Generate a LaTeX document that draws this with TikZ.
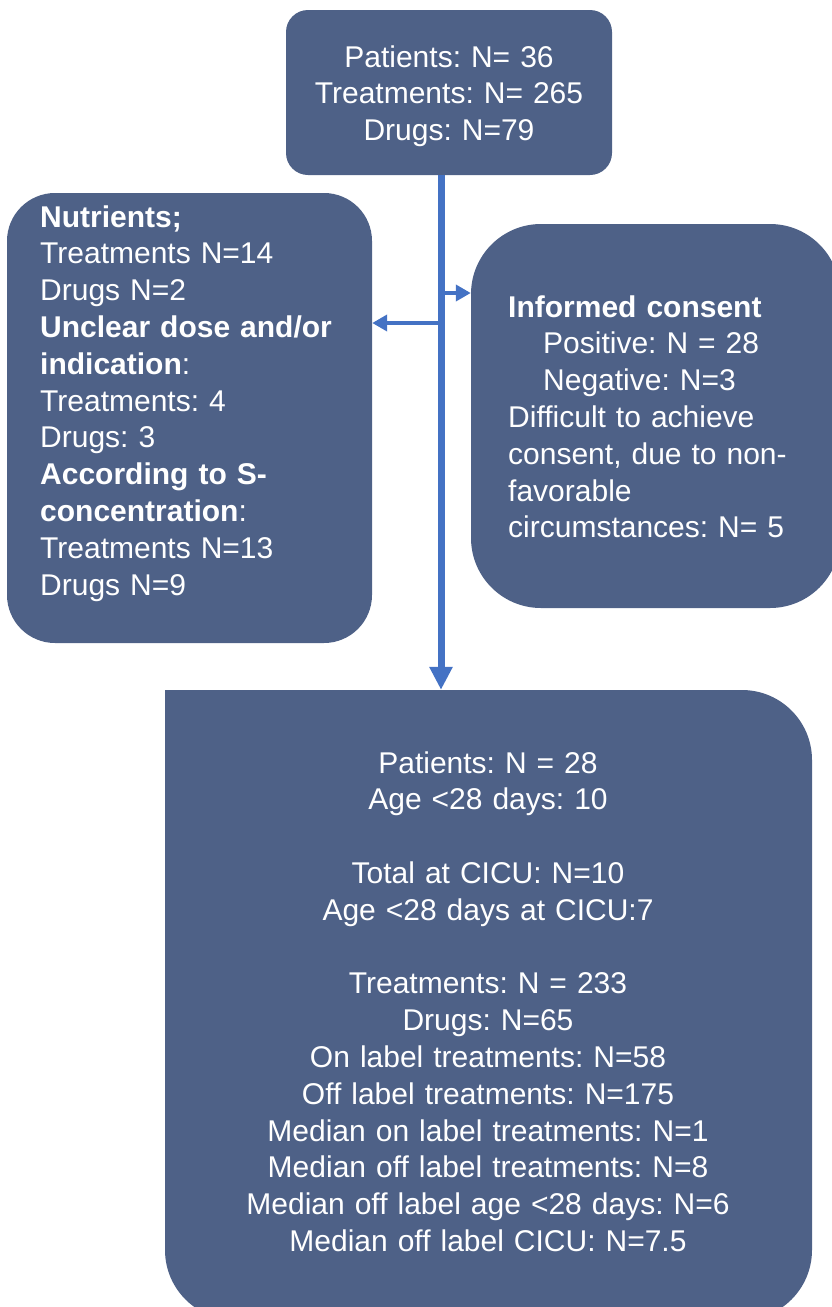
\documentclass[tikz,border=0pt]{standalone}
\usepackage{fontspec}
\setmainfont{Liberation Sans}
\usepackage{xcolor}
\usepackage{tikz}
\usetikzlibrary{calc}
\usetikzlibrary{arrows.meta}
\usetikzlibrary{positioning}
\frenchspacing
\definecolor{boxblue}{RGB}{78,97,135}
\definecolor{flowblue}{RGB}{68,114,196}
\tikzstyle{box} = [draw=none, fill=boxblue, inner sep=0]
\tikzstyle{txt} = [draw=none, text=white, inner sep=0, font=\fontsize{30}{36.8}\selectfont]
\tikzstyle{flow} = [draw=flowblue]

\begin{document}
\frenchspacing
\begin{tikzpicture}[x=1pt, y=-1pt]
\useasboundingbox (0,0) rectangle (831,1307);
% boxes
\node [box, rounded corners=22pt, minimum width=326pt, minimum height=165pt] (S) at (449, 92.5) {};
\node [box, rounded corners=48pt, minimum width=365pt, minimum height=450pt] (E) at (189.5, 418) {};
\node [box, rounded corners=70pt, minimum width=369pt, minimum height=384pt] (C) at (655.5, 416) {};
\node [box, rounded corners=70pt, minimum width=647pt, minimum height=630pt] (F) at (488.5, 1005) {};
\fill [boxblue] (F.north west) rectangle ++(80, 80);
% texts
\node [txt, text width=320pt, align=center, anchor=base] (St) at (449, 67) {Patients: N= 36\\Treatments: N= 265\\Drugs: N=79};
\node [txt, text width=340pt, align=left, anchor=base west] (Et) at (40, 227) {\textbf{Nutrients;}\\Treatments N=14\\Drugs N=2\\\textbf{Unclear dose and/or}\\\textbf{indication}:\\Treatments: 4\\Drugs: 3\\\textbf{According to S-}\\\textbf{concentration}:\\Treatments N=13\\Drugs N=9};
\node [txt, text width=330pt, align=left, anchor=base west] (Ct) at (508, 317) {\textbf{Informed consent}\\\hspace*{35pt}Positive: N = 28\\\hspace*{35pt}Negative: N=3\\Difficult to achieve\\consent, due to non-\\favorable\\circumstances: N= 5};
\node [txt, text width=620pt, align=center, anchor=base] (Ft) at (488, 773) {Patients: N = 28\\Age <28 days: 10\\[36.8pt]Total at CICU: N=10\\Age <28 days at CICU:7\\[36.8pt]Treatments: N = 233\\Drugs: N=65\\On label treatments: N=58\\Off label treatments: N=175\\Median on label treatments: N=1\\Median off label treatments: N=8\\Median off label age <28 days: N=6\\Median off label CICU: N=7.5};
% connectors
\coordinate (J) at (441, 175);
\coordinate (JR) at (441, 293);
\coordinate (JL) at (441, 323);
\draw [flow, line width=7pt, -{Triangle[length=23pt, width=22pt]}] (J) to (J |- F.north);
\draw [flow, line width=4.5pt, -{Triangle[length=15pt, width=16pt]}] (JR) to (JR -| C.west);
\draw [flow, line width=4.5pt, -{Triangle[length=15pt, width=16pt]}] (JL) to (JL -| E.east);
\end{tikzpicture}
\end{document}
